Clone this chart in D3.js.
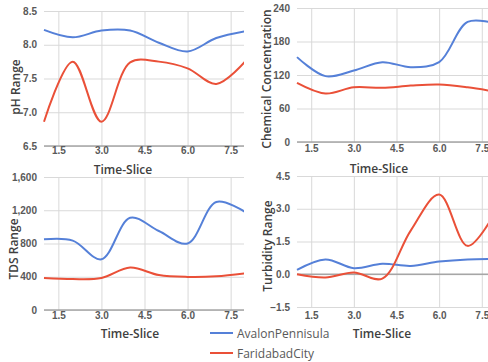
<!DOCTYPE html>
<html>
<head>
<meta charset="utf-8">
<script src="https://cdn.jsdelivr.net/npm/d3@7"></script>
<style>
  html, body { margin: 0; padding: 0; background: #fff; }
  svg { display: block; font-family: 'Open Sans', 'Noto Sans', sans-serif; }
  .grid line { stroke: #d9d9d9; stroke-width: 1; }
  .grid path { display: none; }
  .ticks text { fill: #595959; font-size: 10px; font-weight: 600; }
  .ticks path, .ticks line { display: none; }
  .title { fill: #404040; font-size: 12px; font-weight: 600; }
</style>
</head>
<body>
<svg id="chart" width="488" height="362"></svg>
<script>
const timeSlices = [1, 2, 3, 4, 5, 6, 7, 8];
const xTicks = [1.5, 3.0, 4.5, 6.0, 7.5];
const seriesNames = ['AvalonPennisula', 'FaridabadCity'];
const seriesColors = ['#5580d8', '#ea5038'];

const phAvalon = [8.22, 8.11, 8.21, 8.21, 8.03, 7.9, 8.1, 8.2];
const phFaridabad = [6.86, 7.75, 6.86, 7.74, 7.75, 7.65, 7.42, 7.75];
const phTicks = [6.5, 7.0, 7.5, 8.0, 8.5];

const chemAvalon = [152, 118, 128, 143, 134, 143, 215, 212];
const chemFaridabad = [106, 87, 98, 97, 101, 103, 98, 90];
const chemTicks = [0, 60, 120, 180, 240];

const tdsAvalon = [850, 835, 610, 1110, 950, 800, 1300, 1180];
const tdsFaridabad = [385, 372, 385, 510, 420, 398, 405, 440];
const tdsTicks = [0, 400, 800, 1200, 1600];

const turbAvalon = [0.2, 0.68, 0.28, 0.48, 0.38, 0.58, 0.68, 0.7];
const turbFaridabad = [0.0, -0.15, 0.08, -0.2, 2.0, 3.65, 1.3, 2.9];
const turbTicks = [-1.5, 0.0, 1.5, 3.0, 4.5];

const panels = [
  { yLabel: 'pH Range', series: [phAvalon, phFaridabad], ticks: phTicks, fmt: d3.format('.1f'),
    clip: [0, 0, 244, 181], x: [44, 245], y: [146, 11], base: 6.5,
    tickY: 154, titleX: 123, titleY: 169, yLabelX: 15, yLabelY: 87 },
  { yLabel: 'Chemical Concentration', series: [chemAvalon, chemFaridabad], ticks: chemTicks, fmt: d3.format('d'),
    clip: [244, 0, 244, 181], x: [297, 496], y: [142, 8], base: 0,
    tickY: 152, titleX: 379, titleY: 168, yLabelX: 266, yLabelY: 79 },
  { yLabel: 'TDS Range', series: [tdsAvalon, tdsFaridabad], ticks: tdsTicks, fmt: d3.format(','),
    clip: [0, 172, 244, 190], x: [44, 245], y: [310, 177], base: 0,
    tickY: 319, titleX: 130, titleY: 333, yLabelX: 13, yLabelY: 249 },
  { yLabel: 'Turbidity Range', series: [turbAvalon, turbFaridabad], ticks: turbTicks, fmt: d3.format('.1f'),
    clip: [244, 172, 244, 190], x: [297, 496], y: [307, 176], base: 0,
    tickY: 319, titleX: 382, titleY: 333, yLabelX: 267, yLabelY: 246 }
];

const svg = d3.select('#chart');

panels.forEach((p, i) => {
  const x = d3.scaleLinear().domain([1, 8]).range(p.x);
  const y = d3.scaleLinear().domain([p.ticks[0], p.ticks[p.ticks.length - 1]]).range(p.y);

  svg.append('clipPath').attr('id', `clip${i}`)
    .append('rect').attr('x', p.clip[0]).attr('y', p.clip[1]).attr('width', p.clip[2]).attr('height', p.clip[3]);

  const g = svg.append('g').attr('clip-path', `url(#clip${i})`);

  // gridlines
  g.append('g').attr('class', 'grid')
    .attr('transform', `translate(${p.x[0]},0)`)
    .call(d3.axisLeft(y).tickValues(p.ticks).tickSize(-(p.x[1] - p.x[0])).tickFormat(''));
  g.append('g').attr('class', 'grid')
    .attr('transform', `translate(0,${p.y[0]})`)
    .call(d3.axisBottom(x).tickValues(xTicks).tickSize(-(p.y[0] - p.y[1])).tickFormat(''));

  // axis baseline
  g.append('line')
    .attr('x1', p.x[0]).attr('x2', p.x[1])
    .attr('y1', y(p.base)).attr('y2', y(p.base))
    .attr('stroke', '#a6a6a6').attr('stroke-width', 1.5);

  // tick labels
  g.append('g').attr('class', 'ticks')
    .attr('transform', `translate(${p.x[0] - 4},0)`)
    .call(d3.axisLeft(y).tickValues(p.ticks).tickSize(0).tickFormat(p.fmt));
  g.append('g').attr('class', 'ticks')
    .attr('transform', `translate(0,${p.tickY - 7})`)
    .call(d3.axisBottom(x).tickValues(xTicks).tickSize(0).tickPadding(0).tickFormat(d3.format('.1f')));

  // lines
  const line = d3.line()
    .x((d, k) => x(timeSlices[k]))
    .y(d => y(d))
    .curve(d3.curveCatmullRom.alpha(0.5));
  p.series.forEach((vals, s) => {
    g.append('path').datum(vals)
      .attr('d', line)
      .attr('fill', 'none')
      .attr('stroke', seriesColors[s])
      .attr('stroke-width', 2);
  });

  // titles
  g.append('text').attr('class', 'title')
    .attr('x', p.titleX).attr('y', p.titleY)
    .attr('text-anchor', 'middle').attr('dominant-baseline', 'central')
    .text('Time-Slice');
  g.append('text').attr('class', 'title')
    .attr('transform', `translate(${p.yLabelX},${p.yLabelY}) rotate(-90)`)
    .attr('text-anchor', 'middle').attr('dominant-baseline', 'central')
    .text(p.yLabel);
});

// legend
const legend = svg.append('g').selectAll('g')
  .data(seriesNames)
  .join('g')
  .attr('transform', (d, i) => `translate(210,${333 + i * 20})`);
legend.append('line')
  .attr('x1', 0).attr('x2', 23)
  .attr('stroke', (d, i) => seriesColors[i])
  .attr('stroke-width', 2);
legend.append('text')
  .attr('x', 27).attr('dominant-baseline', 'central')
  .attr('fill', '#595959').attr('font-size', 12)
  .text(d => d);
</script>
</body>
</html>
